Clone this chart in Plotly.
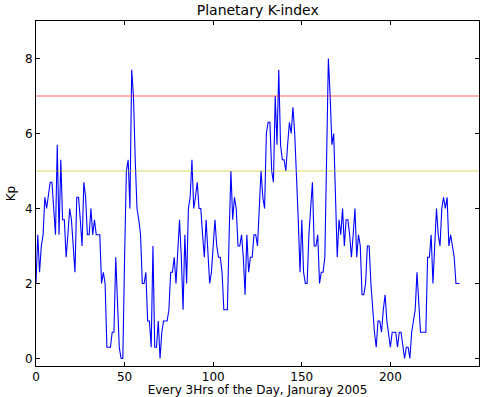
import plotly.graph_objects as go

# Kp index every 3 hours, January 2005
kp = [
    2.0, 3.3, 2.3, 3.0, 3.3, 4.3, 4.0, 4.3, 4.7, 4.7,
    4.0, 3.3, 5.7, 3.3, 5.3, 3.7, 3.7, 2.7, 3.3, 4.0,
    3.7, 3.0, 2.3, 4.3, 4.3, 3.7, 3.0, 4.7, 4.3, 3.3,
    3.3, 4.0, 3.3, 3.7, 3.3, 3.3, 3.3, 2.0, 2.3, 2.0,
    0.3, 0.3, 0.3, 0.7, 0.7, 2.7, 1.3, 0.3, 0.0, 0.0,
    2.7, 5.0, 5.3, 4.0, 7.7, 7.0, 5.3, 4.0, 3.7, 3.3,
    2.0, 2.0, 2.3, 1.0, 1.0, 0.3, 3.0, 0.3, 0.3, 1.0,
    0.0, 0.7, 1.0, 1.0, 1.0, 1.3, 2.3, 2.3, 2.7, 2.0,
    3.0, 3.7, 2.7, 1.3, 3.3, 2.0, 4.0, 4.3, 5.3, 4.0,
    4.3, 4.7, 4.0, 4.0, 3.3, 2.7, 3.7, 2.7, 2.0, 2.3,
    3.0, 3.7, 3.0, 2.7, 2.7, 2.3, 1.3, 1.3, 1.3, 3.3,
    5.0, 3.7, 4.3, 4.0, 3.0, 3.0, 3.3, 2.7, 1.7, 3.3,
    2.3, 2.7, 2.7, 3.3, 3.3, 3.0, 4.0, 5.0, 4.3, 4.0,
    6.0, 6.3, 6.3, 5.0, 4.7, 7.0, 5.7, 7.7, 5.7, 5.3,
    5.3, 5.0, 5.7, 6.3, 6.0, 6.7, 6.0, 5.0, 3.7, 2.3,
    3.7, 2.3, 2.0, 2.0, 3.3, 4.0, 4.7, 3.0, 3.0, 3.3,
    2.0, 2.3, 2.3, 2.7, 5.3, 8.0, 7.0, 5.7, 6.0, 4.3,
    2.7, 3.7, 3.3, 4.0, 3.0, 3.7, 3.7, 3.3, 2.7, 3.3,
    4.0, 2.7, 3.3, 3.0, 1.7, 1.7, 2.0, 3.0, 3.0, 2.0,
    1.3, 0.7, 0.3, 1.0, 1.0, 0.7, 1.3, 1.7, 1.0, 0.7,
    0.3, 0.7, 0.7, 0.7, 0.3, 0.7, 0.7, 0.3, 0.0, 0.3,
    0.3, 0.0, 0.7, 1.0, 1.3, 2.3, 1.3, 0.7, 0.7, 0.7,
    0.7, 2.7, 2.7, 3.3, 2.0, 3.0, 4.0, 3.3, 3.0, 4.0,
    4.3, 4.0, 4.3, 3.0, 3.3, 3.0, 2.7, 2.0, 2.0, 2.0,
]
x = list(range(len(kp)))

storm_level = 7
active_level = 5
x_ticks = [0, 50, 100, 150, 200, 250]
y_ticks = [0, 2, 4, 6, 8]

font = "DejaVu Sans"

fig = go.Figure()
fig.add_trace(go.Scatter(x=x, y=kp, mode="lines",
                         line=dict(color="#0000ff", width=1.1),
                         showlegend=False, hoverinfo="skip"))

fig.add_shape(type="line", xref="x domain", yref="y", x0=0, x1=1,
              y0=storm_level, y1=storm_level,
              line=dict(color="rgba(255,0,0,0.6)", width=1.1))
fig.add_shape(type="line", xref="x domain", yref="y", x0=0, x1=1,
              y0=active_level, y1=active_level,
              line=dict(color="rgba(191,191,0,0.6)", width=1.1))

axis_common = dict(
    showgrid=False, zeroline=False, showline=True, linecolor="black",
    linewidth=1, mirror="ticks", ticks="inside", ticklen=4,
    tickcolor="black", tickwidth=1, automargin=False,
    tickfont=dict(family=font, size=12, color="black"),
)

fig.update_layout(
    width=490, height=397,
    margin=dict(l=36, r=11, t=21, b=31),
    paper_bgcolor="white", plot_bgcolor="white",
    title=dict(text="Planetary K-index", x=0.526, xanchor="center",
               y=0.975, yanchor="middle",
               font=dict(family=font, size=14, color="black")),
    xaxis=dict(range=[0, 250], tickvals=x_ticks,
               title=dict(text="Every 3Hrs of the Day, Januray 2005",
                          font=dict(family=font, size=12, color="black"),
                          standoff=4),
               **axis_common),
    yaxis=dict(range=[-0.2, 9], tickvals=y_ticks,
               title=dict(text="Kp", font=dict(family=font, size=12, color="black"),
                          standoff=6),
               **axis_common),
)

fig.write_html("out.html")
